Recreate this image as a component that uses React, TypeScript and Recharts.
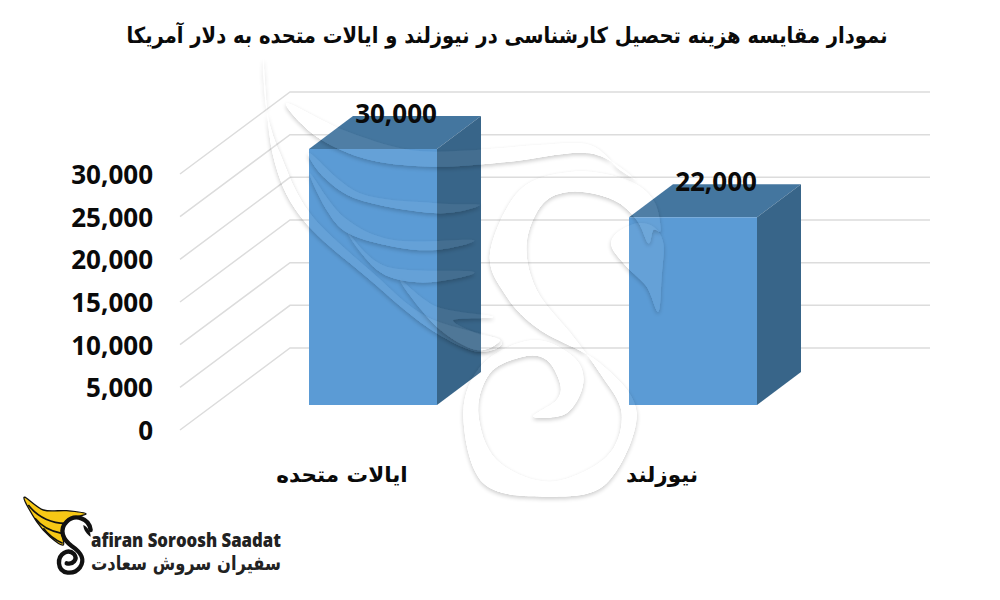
import { Bar, BarChart, CartesianGrid, LabelList, XAxis, YAxis } from 'recharts';

const categories = ['ایالات متحده', 'نیوزلند'];
const costs = [30000, 22000];
const yTicks = [0, 5000, 10000, 15000, 20000, 25000, 30000];
const title = 'نمودار مقایسه هزینه تحصیل کارشناسی در نیوزلند و ایالات متحده به دلار آمریکا';

const chartData = categories.map((name, i) => ({ name, cost: costs[i] }));

const fmt = (v: number) => v.toLocaleString('en-US');
const font = '"Open Sans", sans-serif';
const faFont = '"DejaVu Sans", sans-serif';

// fake 3d: how far the bars sit from the axis plane, and the bar depth
const frontLift = 25;
const depthX = 44;
const depthY = 33;

const Box3D = ({ x, y, width, height }: any) => {
    const top = y - frontLift;
    const bottom = top + height;
    const right = x + width;
    return (
        <g>
            <polygon points={`${x},${top} ${x + depthX},${top - depthY} ${right + depthX},${top - depthY} ${right},${top}`} fill="#44769f" />
            <polygon points={`${right},${top} ${right + depthX},${top - depthY} ${right + depthX},${bottom - depthY} ${right},${bottom}`} fill="#386589" />
            <rect x={x} y={top} width={width} height={height} fill="#5b9bd5" />
        </g>
    );
};

// wall + floor lines, each grid line bends at the back corner
const wallLine = ({ x1, x2, y1, key }: any) => (
    <polyline
        key={key}
        points={`${x1 - 33},${y1} ${x1 + 77},${y1 - 82} ${x2 + 77},${y1 - 82}`}
        fill="none"
        stroke="#dcdcdc"
        strokeWidth={1.5}
    />
);

const YTick = ({ y, payload }: any) => (
    <text x={153} y={y + 10} textAnchor="end" fontFamily={font} fontWeight={700} fontSize={26} fill="#0a0a0a">
        {fmt(payload.value)}
    </text>
);

const XTick = ({ x, payload }: any) => (
    <text x={x - 31} y={482} textAnchor="middle" fontFamily={faFont} fontWeight={700} fontSize={21.5} fill="#0a0a0a">
        {payload.value}
    </text>
);

const ValueLabel = ({ x, y, width, value }: any) => (
    <text x={x + width / 2 + 23} y={y - frontLift - 26} textAnchor="middle" fontFamily={font} fontWeight={700} fontSize={26} fill="#0a0a0a">
        {fmt(value)}
    </text>
);

// smooth closed outline through a list of points, only for the logo artwork
const blob = (pts: number[][]) => {
    const n = pts.length;
    let d = `M${pts[0][0]} ${pts[0][1]}`;
    for (let i = 0; i < n; i++) {
        const p0 = pts[(i - 1 + n) % n], p1 = pts[i], p2 = pts[(i + 1) % n], p3 = pts[(i + 2) % n];
        d += `C${p1[0] + (p2[0] - p0[0]) / 6} ${p1[1] + (p2[1] - p0[1]) / 6} ${p2[0] - (p3[0] - p1[0]) / 6} ${p2[1] - (p3[1] - p1[1]) / 6} ${p2[0]} ${p2[1]}`;
    }
    return d + 'Z';
};

const sShape = [[662, 300], [640, 210], [560, 150], [400, 125], [240, 180], [150, 370], [200, 500], [300, 600], [480, 700], [590, 850], [500, 1060], [330, 1100], [130, 1060], [70, 850], [130, 700], [280, 630], [400, 680], [430, 760], [380, 850], [280, 860], [350, 810], [360, 760], [320, 690], [250, 680], [150, 730], [115, 850], [170, 990], [330, 1055], [500, 980], [545, 850], [480, 730], [400, 620], [290, 480], [260, 340], [310, 220], [400, 185], [520, 210], [590, 270], [625, 340], [640, 300]];
const headShape = [[590, 280], [530, 310], [515, 350], [560, 410], [620, 470], [655, 545], [665, 440], [670, 340], [640, 290]];
const bandTop = [[80, 100], [170, 200], [330, 270], [530, 290], [750, 275], [990, 250], [1130, 330], [1080, 300], [990, 225], [840, 225], [650, 240], [450, 240], [250, 180]];
const feather1 = [[150, 250], [300, 370], [530, 400], [660, 405], [530, 430], [300, 390], [190, 320]];
const feather2 = [[150, 310], [250, 440], [400, 510], [640, 510], [530, 540], [400, 530], [265, 490], [200, 420]];
const feather3 = [[265, 490], [380, 590], [640, 605], [530, 635], [420, 630], [340, 590]];
const feather4 = [[420, 630], [530, 710], [700, 740], [580, 750], [650, 790], [720, 810], [650, 840], [530, 770]];
const wingEdge = [[10, -30], [20, 120], [60, 250], [150, 430], [340, 610], [500, 740], [720, 810], [650, 845], [500, 770], [330, 630], [130, 450], [40, 260]];
const feathers = [wingEdge, bandTop, feather1, feather2, feather3, feather4];

const logoWing = [[72, 52], [130, 90], [200, 92], [258, 102], [205, 118], [185, 150], [190, 195], [150, 170], [110, 125]];

export default function App() {
    return (
        <div style={{ position: 'absolute', left: 0, top: 0, width: 1000, height: 600, background: '#fff', overflow: 'hidden' }}>
            <BarChart width={1000} height={600} data={chartData} margin={{ top: 174, right: 147, bottom: 140, left: 0 }} barSize={128}>
                <CartesianGrid vertical={false} horizontal={wallLine} />
                <YAxis type="number" domain={[0, 30000]} ticks={yTicks} width={213} axisLine={false} tickLine={false} tick={<YTick />} interval={0} />
                <XAxis dataKey="name" height={30} axisLine={false} tickLine={false} tick={<XTick />} />
                <Bar dataKey="cost" shape={<Box3D />} isAnimationActive={false}>
                    <LabelList dataKey="cost" content={<ValueLabel />} />
                </Bar>
            </BarChart>

            <svg width={1000} height={600} style={{ position: 'absolute', left: 0, top: 0 }}>
                <defs>
                    <filter id="soft" x="-30%" y="-30%" width="160%" height="160%">
                        <feColorMatrix in="SourceAlpha" type="matrix" values="0 0 0 0 0  0 0 0 0 0  0 0 0 0 0  0 0 0 30 0" result="solid" />
                        <feGaussianBlur in="solid" stdDeviation="6" />
                        <feOffset dx="0" dy="5" result="blurred" />
                        <feComponentTransfer in="blurred" result="shade">
                            <feFuncA type="linear" slope="0.2" />
                        </feComponentTransfer>
                        <feComposite in="shade" in2="solid" operator="out" result="outside" />
                        <feMerge>
                            <feMergeNode in="outside" />
                            <feMergeNode in="SourceGraphic" />
                        </feMerge>
                    </filter>
                </defs>
                {/* watermark */}
                <g fill="#fff" fillOpacity={0.06}>
                    <g transform="translate(440 130) scale(0.3333)">
                        <path d={blob(sShape)} filter="url(#soft)" />
                        <path d={blob(headShape)} filter="url(#soft)" />
                    </g>
                    <g transform="translate(260 70) scale(0.3333)">
                        {feathers.map((f, i) => (
                            <path key={i} d={blob(f)} filter="url(#soft)" />
                        ))}
                    </g>
                </g>

                <text x={507} y={43} textAnchor="middle" fontFamily={faFont} fontWeight={700} fontSize={22} fill="#0a0a0a" textLength={761} lengthAdjust="spacingAndGlyphs">
                    {title}
                </text>

                {/* company logo */}
                <g transform="translate(0 480) scale(0.3333)">
                    <path d={blob(logoWing)} fill="#f7c815" stroke="#111" strokeWidth={4} />
                    <path d="M85 75C115 115 160 130 195 130M105 115C125 140 155 155 185 160M130 145C145 165 165 180 188 190" fill="none" stroke="#111" strokeWidth={5} />
                    <path
                        d="M272 150C268 115 225 100 200 125C175 150 190 180 215 198C240 215 258 235 240 262C222 285 180 285 177 250C175 220 205 205 222 222C235 238 218 255 200 250"
                        fill="none"
                        stroke="#111"
                        strokeWidth={13}
                        strokeLinecap="round"
                    />
                    <path d="M250 135C262 140 272 155 272 170C262 165 250 150 250 135Z" fill="#111" />
                </g>
                <text x={91} y={547} fontFamily={font} fontWeight={800} fontSize={20} fill="#222" textLength={190} lengthAdjust="spacingAndGlyphs">
                    afiran Soroosh Saadat
                </text>
                <text x={186} y={570} textAnchor="middle" fontFamily={faFont} fontWeight={700} fontSize={20} fill="#222" textLength={190} lengthAdjust="spacingAndGlyphs">
                    سفیران سروش سعادت
                </text>
            </svg>
        </div>
    );
}
